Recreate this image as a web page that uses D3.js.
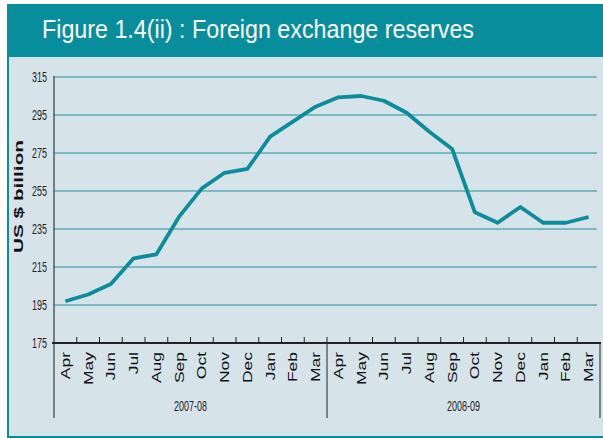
<!DOCTYPE html>
<html>
<head>
<meta charset="utf-8">
<script src="https://cdn.jsdelivr.net/npm/d3@7"></script>
<style>
  body { margin: 0; background: #fff; }
  svg { display: block; }
  text { font-family: "Liberation Sans", Arial, sans-serif; }
</style>
</head>
<body>
<svg id="chart"></svg>
<script>
// data (US $ billion, end of month)
const months = ['Apr', 'May', 'Jun', 'Jul', 'Aug', 'Sep', 'Oct', 'Nov', 'Dec', 'Jan', 'Feb', 'Mar'];
const years = ['2007-08', '2008-09'];
const reserves0708 = [197, 200.5, 206, 219.6, 221.7, 241.5, 256.4, 264.6, 266.6, 283.6, 291.5, 299.4];
const reserves0809 = [304.3, 305, 302.5, 296.2, 286.2, 277.1, 243.8, 238.3, 246.6, 238.3, 238.3, 241.3];
const yTicks = [175, 195, 215, 235, 255, 275, 295, 315];

const W = 603, H = 438;
const teal = '#078d9c';
const bg = '#d6e4ea';

const data = [];
years.forEach((yr, i) => {
    const vals = i === 0 ? reserves0708 : reserves0809;
    months.forEach((m, j) => data.push({ key: yr + '|' + m, month: m, year: yr, value: vals[j] }));
});

const margin = { left: 54, right: 3, top: 77, bottom: 95 };
const plotW = W - margin.left - margin.right;
const plotH = H - margin.top - margin.bottom;

const svg = d3.select('#chart').attr('width', W).attr('height', H);

// frame
svg.append('rect').attr('x', 7).attr('y', 4).attr('width', W - 7).attr('height', H - 4).attr('fill', teal);
svg.append('rect').attr('x', 9).attr('y', 57).attr('width', W - 9).attr('height', 379).attr('fill', bg);

svg.append('text')
    .attr('x', 42).attr('y', 38)
    .attr('fill', '#fff')
    .attr('font-size', 25)
    .attr('textLength', 432)
    .attr('lengthAdjust', 'spacingAndGlyphs')
    .text('Figure 1.4(ii) : Foreign exchange reserves');

const x = d3.scaleBand().domain(data.map(d => d.key)).range([0, plotW]).padding(0);
const y = d3.scaleLinear().domain([175, 315]).range([plotH, 0]);

const g = svg.append('g').attr('transform', `translate(${margin.left},${margin.top})`);

// gridlines
g.selectAll('.grid')
    .data(yTicks.slice(1))
    .join('line')
    .attr('x1', 0).attr('x2', plotW - 3)
    .attr('y1', d => y(d)).attr('y2', d => y(d))
    .attr('stroke', '#1a8d9b').attr('stroke-width', 1.2);

// y axis line
g.append('line')
    .attr('x1', 0).attr('x2', 0)
    .attr('y1', y(315) - 1).attr('y2', plotH)
    .attr('stroke', '#444').attr('stroke-width', 1.3);

// y tick labels (condensed)
g.selectAll('.ytl')
    .data(yTicks)
    .join('text')
    .attr('transform', d => `translate(-7,${y(d)}) scale(0.64,1)`)
    .attr('dy', '0.36em')
    .attr('text-anchor', 'end')
    .attr('font-size', 14)
    .attr('fill', '#222')
    .text(d => d);

// x axis line
g.append('line')
    .attr('x1', -2).attr('x2', plotW + 1)
    .attr('y1', plotH).attr('y2', plotH)
    .attr('stroke', '#222').attr('stroke-width', 2);

// ticks between months, pointing up
g.selectAll('.xtick')
    .data(data.slice(1))
    .join('line')
    .attr('x1', d => x(d.key)).attr('x2', d => x(d.key))
    .attr('y1', plotH).attr('y2', plotH - 6)
    .attr('stroke', '#222').attr('stroke-width', 1);

// month labels (stretched along their length)
g.selectAll('.mlabel')
    .data(data)
    .join('text')
    .attr('transform', d => `translate(${x(d.key) + x.bandwidth() / 2 + 4.5},${plotH + 9}) rotate(-90) scale(1.4,1)`)
    .attr('text-anchor', 'end')
    .attr('font-size', 12.5)
    .attr('fill', '#111')
    .text(d => d.month);

// year separators and labels
const yearEdges = [x(years[0] + '|Apr'), x(years[1] + '|Apr'), plotW];
g.selectAll('.ysep')
    .data(yearEdges)
    .join('line')
    .attr('x1', d => d).attr('x2', d => d)
    .attr('y1', plotH).attr('y2', plotH + 75)
    .attr('stroke', '#222').attr('stroke-width', 1);

g.selectAll('.ylabel')
    .data(years)
    .join('text')
    .attr('transform', (d, i) => `translate(${(yearEdges[i] + yearEdges[i + 1]) / 2},${plotH + 68}) scale(0.62,1)`)
    .attr('text-anchor', 'middle')
    .attr('font-size', 14.5)
    .attr('fill', '#222')
    .text(d => d);

// y title (stretched along its length)
svg.append('text')
    .attr('transform', 'translate(23,196.5) rotate(-90)')
    .attr('text-anchor', 'middle')
    .attr('font-weight', 'bold')
    .attr('font-size', 12)
    .attr('textLength', 113)
    .attr('lengthAdjust', 'spacingAndGlyphs')
    .attr('fill', '#111')
    .text('US $ billion');

// series line
const line = d3.line()
    .x(d => x(d.key) + x.bandwidth() / 2)
    .y(d => y(d.value));

g.append('path')
    .datum(data)
    .attr('d', line)
    .attr('fill', 'none')
    .attr('stroke', '#0b8d9c')
    .attr('stroke-width', 3.8)
    .attr('stroke-linejoin', 'round');
</script>
</body>
</html>
